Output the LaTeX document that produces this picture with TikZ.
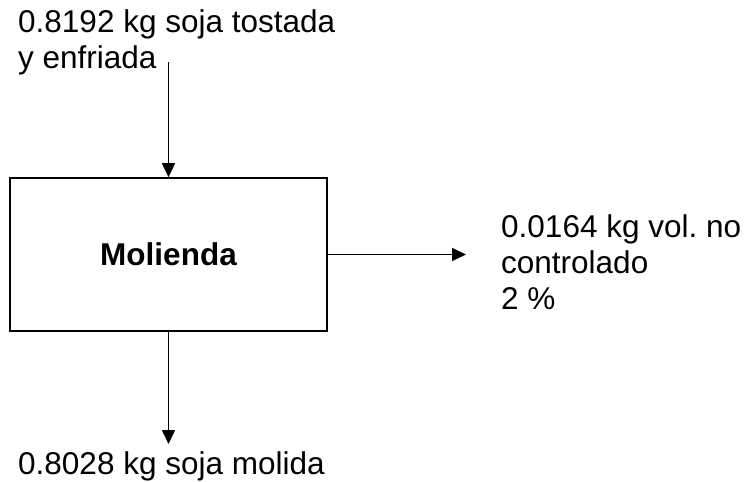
\documentclass[tikz,border=0pt]{standalone}
\usepackage{fontspec}
\setmainfont{Liberation Sans}
\usetikzlibrary{arrows.meta}
\frenchspacing
\begin{document}
\begin{tikzpicture}[x=1pt,y=-1pt,
  every node/.style={font=\fontsize{31.5}{36}\selectfont, inner sep=0pt},
  label/.style={anchor=base west, align=left},
  flow/.style={line width=1.6pt, -{Triangle[length=14pt,width=13pt]}},
  procbox/.style={draw, line width=1.6pt, minimum width=317pt, minimum height=153pt,
    font=\fontsize{31.5}{36}\selectfont\bfseries}]
  \useasboundingbox (0,0) rectangle (748,482);
  % process block
  \node[procbox] (mol) at (168.5,254.5) {Molienda};
  % stream labels (anchored at the baseline of their last line)
  \node[label] (feed) at (18,68) {0.8192 kg soja tostada\\y enfriada};
  \node[label] (loss) at (501,309) {0.0164 kg vol.\ no\\controlado\\2 \%};
  \node[label] (prod) at (18,474) {0.8028 kg soja molida};
  % stream ends
  \coordinate (fin) at (168.5,62);
  \coordinate (lossend) at (466,254.5);
  \coordinate (prodend) at (168.5,444);
  % connectors
  \draw[flow] (fin) -- (mol.north);
  \draw[flow] (mol.east) -- (lossend);
  \draw[flow] (mol.south) -- (prodend);
\end{tikzpicture}
\end{document}
